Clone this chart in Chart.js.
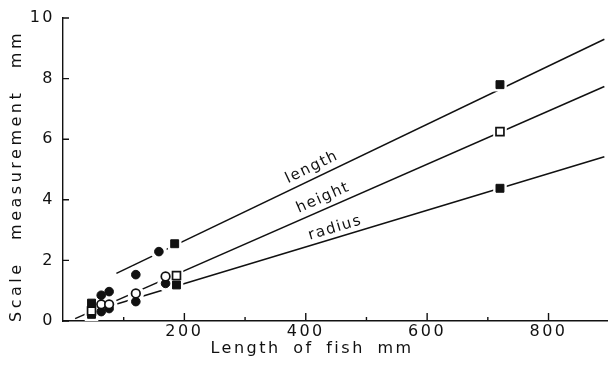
<!DOCTYPE html>
<html lang="en">
<head>
<meta charset="UTF-8" />
<title>Scale measurement against length of fish</title>
<script src="https://cdn.jsdelivr.net/npm/chart.js"></script>
<style>
  html, body { margin: 0; padding: 0; background: #fff; }
  #wrap { width: 608px; height: 366px; }
</style>
</head>
<body>
<div id="wrap"><canvas id="scaleChart" width="608" height="366"></canvas></div>
<script>
// samples: fish length (mm) and scale measurement (mm)
const lengthX = [47, 63, 76, 120, 158, 184, 720];
const lengthY = [0.59, 0.85, 0.97, 1.53, 2.29, 2.55, 7.8];
const heightX = [47, 63, 76, 120, 169, 187, 720];
const heightY = [0.33, 0.55, 0.55, 0.91, 1.47, 1.5, 6.25];
const radiusX = [47, 63, 76, 120, 169, 187, 720];
const radiusY = [0.22, 0.31, 0.41, 0.64, 1.24, 1.19, 4.38];
const markerShape = ['rect', 'circle', 'circle', 'circle', 'circle', 'rect', 'rect'];

// fitted lines, start and end
const lengthFitX = [88, 892];
const lengthFitY = [1.57, 9.3];
const heightFitX = [20, 892];
const heightFitY = [0.08, 7.74];
const radiusFitX = [45, 892];
const radiusFitY = [0.3, 5.42];

const lineNames = ['length', 'height', 'radius'];
const xMajorTicks = [200, 400, 600, 800];
const xMinorTicks = [100, 300, 500, 700];
const yTicks = [0, 2, 4, 6, 8, 10];

const INK = '#111';
const FONT = '"DejaVu Sans", sans-serif';

const pts = (xs, ys) => xs.map((x, i) => ({ x: x, y: ys[i] }));
const markerSize = c => markerShape[c.dataIndex] === 'rect' ? 5.6 : 4.3;

function markers(xs, ys, open) {
  return {
    type: 'scatter', order: 0, data: pts(xs, ys),
    pointStyle: markerShape, pointRadius: markerSize,
    pointBackgroundColor: open ? '#fff' : INK,
    pointBorderColor: INK, pointBorderWidth: open ? 1.7 : 1
  };
}
function halo(xs, ys) {
  // white ring so the fitted line breaks around each point
  return {
    type: 'scatter', order: 1, data: pts(xs, ys),
    pointStyle: markerShape, pointRadius: c => markerSize(c) + 4,
    pointBackgroundColor: '#fff', pointBorderColor: '#fff', pointBorderWidth: 0
  };
}
function fit(xs, ys) {
  return {
    type: 'line', order: 2, data: pts(xs, ys),
    borderColor: INK, borderWidth: 1.5, pointRadius: 0, fill: false
  };
}

const fits = [[lengthFitX, lengthFitY], [heightFitX, heightFitY], [radiusFitX, radiusFitY]];
const labelAt = [418, 436, 453];
const labelGap = [11, 11, 9.5];

const paperPlugin = {
  id: 'paper',
  beforeDraw(chart) {
    chart.ctx.letterSpacing = '2.5px';
  },
  afterDraw(chart) {
    const { ctx, chartArea: a, scales: { x, y } } = chart;
    ctx.save();
    ctx.strokeStyle = INK;
    ctx.lineWidth = 1.4;
    ctx.beginPath();
    xMajorTicks.forEach(v => { const p = x.getPixelForValue(v); ctx.moveTo(p, a.bottom); ctx.lineTo(p, a.bottom - 8); });
    xMinorTicks.forEach(v => { const p = x.getPixelForValue(v); ctx.moveTo(p, a.bottom); ctx.lineTo(p, a.bottom - 4); });
    yTicks.forEach(v => { const p = y.getPixelForValue(v); ctx.moveTo(a.left, p); ctx.lineTo(a.left + 6, p); });
    ctx.stroke();

    ctx.fillStyle = INK;
    ctx.font = '15px ' + FONT;
    ctx.textAlign = 'center';
    ctx.textBaseline = 'middle';
    ctx.letterSpacing = '1.5px';

    // names written along each fitted line
    fits.forEach(([xs, ys], i) => {
      const x0 = x.getPixelForValue(xs[0]), y0 = y.getPixelForValue(ys[0]);
      const x1 = x.getPixelForValue(xs[1]), y1 = y.getPixelForValue(ys[1]);
      const ang = Math.atan2(y1 - y0, x1 - x0);
      const px = x.getPixelForValue(labelAt[i]);
      const py = y0 + (px - x0) * (y1 - y0) / (x1 - x0);
      ctx.save();
      ctx.translate(px + Math.sin(ang) * labelGap[i], py - Math.cos(ang) * labelGap[i]);
      ctx.rotate(ang);
      ctx.fillText(lineNames[i], 0, 0);
      ctx.restore();
    });

    // axis titles
    ctx.font = '16px ' + FONT;
    ctx.letterSpacing = '2.5px';
    ctx.wordSpacing = '5px';
    ctx.fillText('Length of fish mm', 312, 349);
    ctx.save();
    ctx.letterSpacing = '3.5px';
    ctx.wordSpacing = '13px';
    ctx.translate(17, 176);
    ctx.rotate(-Math.PI / 2);
    ctx.fillText('Scale measurement mm', 0, 0);
    ctx.restore();
    ctx.restore();
  }
};

new Chart(document.getElementById('scaleChart'), {
  data: {
    datasets: [
      markers(lengthX, lengthY, false),
      markers(heightX, heightY, true),
      markers(radiusX, radiusY, false),
      halo(lengthX, lengthY),
      halo(heightX, heightY),
      halo(radiusX, radiusY),
      fit(lengthFitX, lengthFitY),
      fit(heightFitX, heightFitY),
      fit(radiusFitX, radiusFitY)
    ]
  },
  options: {
    responsive: false,
    animation: false,
    layout: { autoPadding: false, padding: { top: 18, left: 0, right: 0, bottom: 0 } },
    plugins: { legend: { display: false }, tooltip: { enabled: false } },
    scales: {
      x: {
        type: 'linear', min: 0, max: 898,
        grid: { display: false, drawTicks: false },
        border: { display: true, color: INK, width: 1.4 },
        ticks: { color: INK, font: { family: FONT, size: 16 }, padding: 1, autoSkip: false, maxRotation: 0 },
        afterBuildTicks: s => { s.ticks = xMajorTicks.map(v => ({ value: v })); },
        afterFit: s => { s.height = 45; s.paddingLeft = 0; s.paddingRight = 0; }
      },
      y: {
        type: 'linear', min: 0, max: 10,
        grid: { display: false, drawTicks: false },
        border: { display: true, color: INK, width: 1.4 },
        ticks: { color: INK, font: { family: FONT, size: 16 }, padding: 8, autoSkip: false },
        afterBuildTicks: s => { s.ticks = yTicks.map(v => ({ value: v })); },
        afterFit: s => { s.width = 63; s.paddingTop = 0; s.paddingBottom = 0; }
      }
    }
  },
  plugins: [paperPlugin]
});
</script>
</body>
</html>
